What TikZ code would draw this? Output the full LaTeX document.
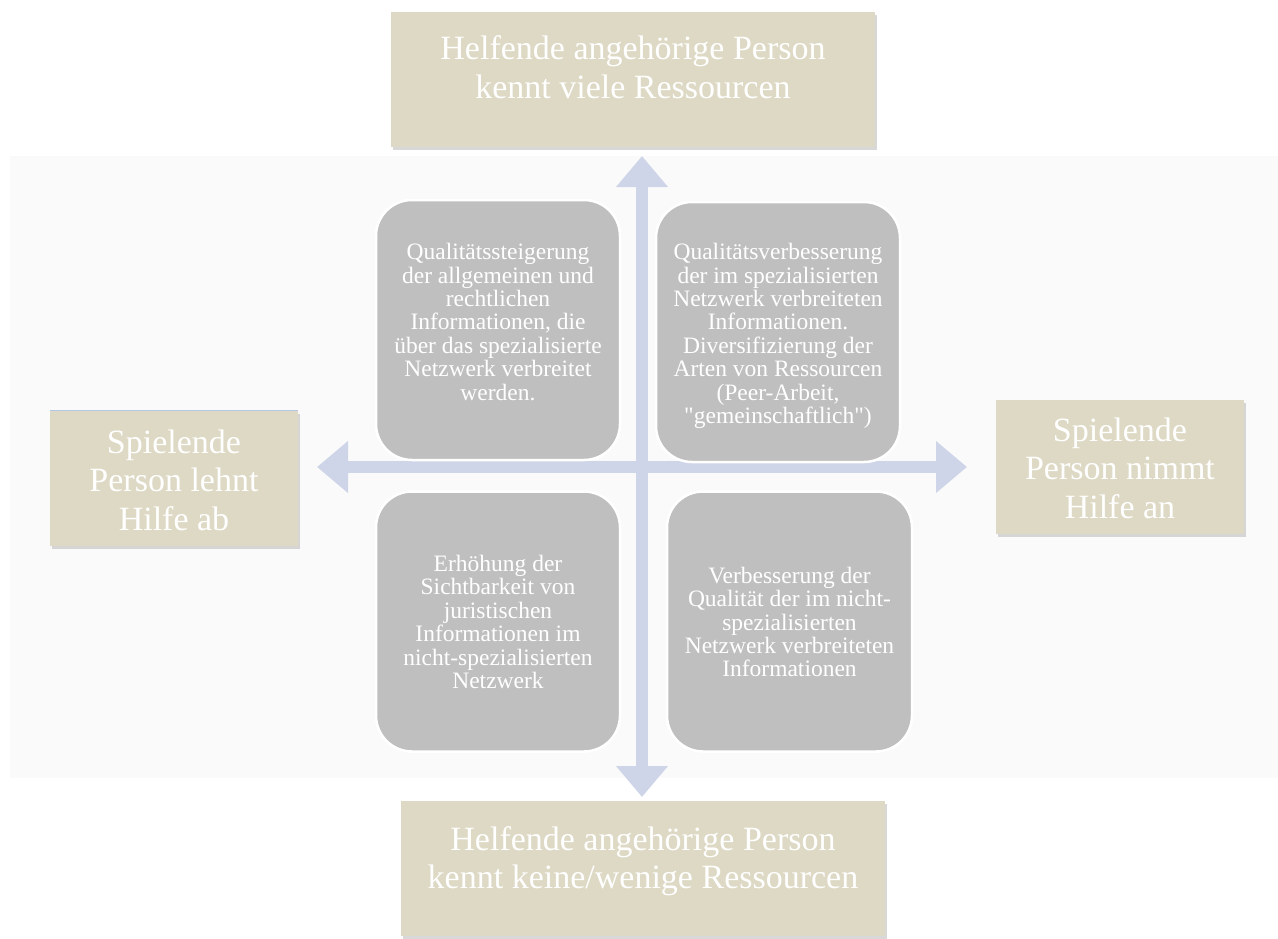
\documentclass[tikz,border=0pt]{standalone}
\usepackage{fontspec}
\setmainfont{Liberation Serif}
\newfontfamily\plainq{Liberation Serif}
\usetikzlibrary{arrows.meta,shadows}
\definecolor{beige}{RGB}{221,217,196}
\definecolor{panelbg}{RGB}{250,250,250}
\definecolor{arrowblue}{RGB}{207,213,232}
\definecolor{boxgray}{RGB}{191,191,191}
\definecolor{topline}{RGB}{180,198,231}
\tikzset{
  beigebox/.style={rectangle, fill=beige, draw=none, inner sep=0pt,
    drop shadow={shadow xshift=1.5pt, shadow yshift=-2.5pt, opacity=0.3, fill=black!50}},
  bigtext/.style={text=white, font=\fontsize{34}{38.5}\selectfont, align=center, inner sep=0pt},
  graybox/.style={rectangle, rounded corners=36pt, fill=boxgray, draw=white, line width=2.5pt,
    minimum width=244pt, minimum height=260pt, inner sep=0pt},
  smalltext/.style={text=white, font=\fontsize{23.5}{23.4}\selectfont, align=center, inner sep=0pt},
  axisarrow/.style={draw=arrowblue, line width=12pt,
    {Triangle[length=31pt,width=50pt]}-{Triangle[length=31pt,width=50pt]}}
}
\begin{document}
\begin{tikzpicture}[x=1pt,y=-1pt]
\useasboundingbox (0,0) rectangle (1278,938);
\fill[white] (0,0) rectangle (1278,938);
% panel
\fill[panelbg] (10,156) rectangle (1278,778);
% beige boxes
\node[beigebox, minimum width=484pt, minimum height=135pt] (topbox) at (633,79.5) {};
\node[bigtext] (toptext) at (633,67) {Helfende angehörige Person\\kennt viele Ressourcen};
\node[beigebox, minimum width=484pt, minimum height=135pt] (botbox) at (643,868.5) {};
\node[bigtext] (bottext) at (643,861) {Helfende angehörige Person\\kennt keine/wenige Ressourcen};
\node[beigebox, minimum width=248pt, minimum height=135pt] (leftbox) at (174,478.5) {};
\draw[topline, line width=1.2pt] (leftbox.north west) -- (leftbox.north east);
\node[bigtext] (lefttext) at (174,480) {Spielende\\Person lehnt\\Hilfe ab};
\node[beigebox, minimum width=248pt, minimum height=134pt] (rightbox) at (1120,467) {};
\node[bigtext] (righttext) at (1120,468) {Spielende\\Person nimmt\\Hilfe an};
% axes
\coordinate (atop) at (642,156);
\coordinate (abot) at (642,797);
\coordinate (aleft) at (317,467);
\coordinate (aright) at (967,467);
\draw[axisarrow] (aleft) -- (aright);
\draw[axisarrow] (abot) -- (atop);
% quadrant boxes
\node[graybox] (tl) at (498,330) {};
\node[smalltext] (tltext) at (498,322) {Qualitätssteigerung\\der allgemeinen und\\rechtlichen\\Informationen, die\\über das spezialisierte\\Netzwerk verbreitet\\werden.};
\node[graybox] (tr) at (778,332) {};
\node[smalltext] (trtext) at (778,336) {Qualitätsverbesserung\\der im spezialisierten\\Netzwerk verbreiteten\\Informationen.\\Diversifizierung der\\Arten von Ressourcen\\(Peer-Arbeit,\\{\plainq"}gemeinschaftlich{\plainq"})};
\node[graybox] (bl) at (498,621.5) {};
\node[smalltext] (bltext) at (498,622) {Erhöhung der\\Sichtbarkeit von\\juristischen\\Informationen im\\nicht-spezialisierten\\Netzwerk};
\node[graybox, minimum width=245pt] (br) at (789.5,621.5) {};
\node[smalltext] (brtext) at (789.5,622) {Verbesserung der\\Qualität der im nicht-\\spezialisierten\\Netzwerk verbreiteten\\Informationen};
\end{tikzpicture}
\end{document}
